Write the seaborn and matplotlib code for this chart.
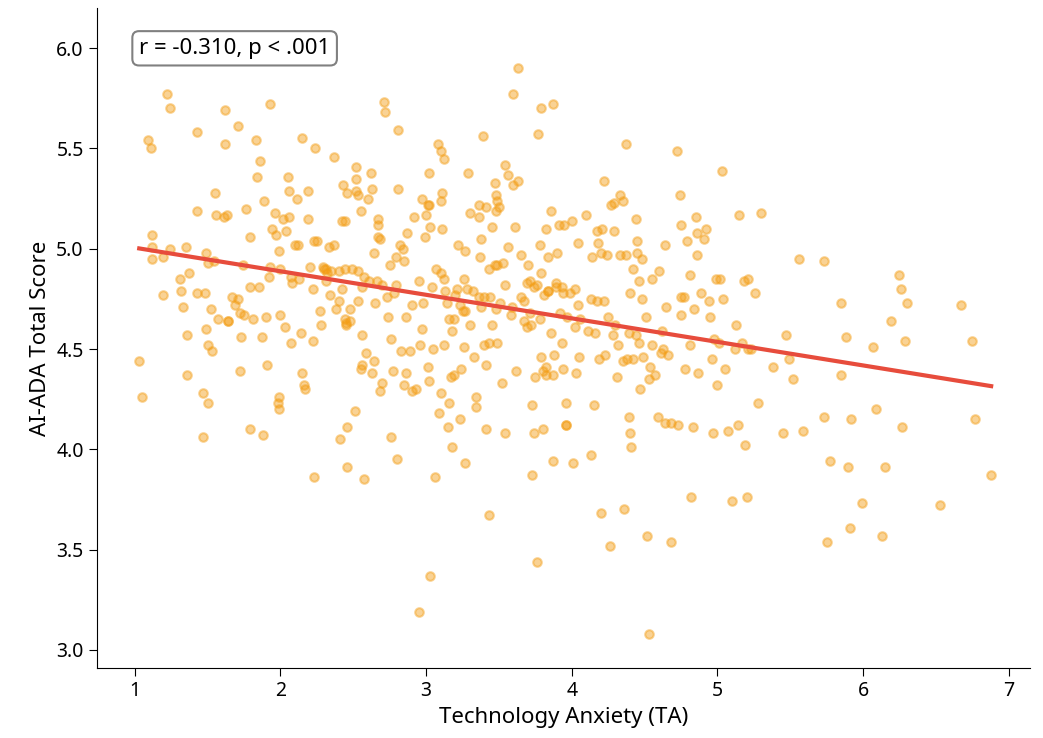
import numpy as np
import pandas as pd
import matplotlib
matplotlib.use("Agg")
import matplotlib.pyplot as plt
import seaborn as sns

# Technology Anxiety (TA) scores
ta = [
    1.03, 1.05, 1.09, 1.11, 1.12, 1.12, 1.12, 1.19, 1.19, 1.22, 1.24, 1.24, 1.30, 1.31, 1.32,
    1.33, 1.35, 1.36, 1.36, 1.37, 1.43, 1.43, 1.43, 1.47, 1.47, 1.48, 1.49, 1.49, 1.50, 1.50,
    1.50, 1.52, 1.53, 1.54, 1.55, 1.56, 1.57, 1.61, 1.62, 1.62, 1.63, 1.64, 1.64, 1.67, 1.69,
    1.71, 1.71, 1.72, 1.72, 1.73, 1.74, 1.75, 1.76, 1.79, 1.79, 1.79, 1.81, 1.83, 1.84, 1.85,
    1.86, 1.87, 1.88, 1.89, 1.90, 1.91, 1.92, 1.93, 1.93, 1.94, 1.95, 1.96, 1.97, 1.98, 1.99,
    1.99, 1.99, 2.00, 2.00,
    2.02, 2.03, 2.04, 2.05, 2.06, 2.06, 2.07, 2.07, 2.08, 2.10, 2.11, 2.12, 2.13, 2.14, 2.15,
    2.15, 2.16, 2.17, 2.19, 2.19, 2.20, 2.22, 2.22, 2.23, 2.23, 2.24, 2.25, 2.27, 2.28, 2.29,
    2.30, 2.31, 2.31, 2.32, 2.33, 2.34, 2.35, 2.37, 2.37, 2.38, 2.40, 2.40, 2.41, 2.42, 2.42,
    2.43, 2.44, 2.44, 2.44, 2.45, 2.45, 2.46, 2.46, 2.46, 2.48, 2.48, 2.49,
    2.51, 2.52, 2.52, 2.52, 2.53, 2.53, 2.53, 2.55, 2.55, 2.56, 2.56, 2.56, 2.57, 2.57, 2.59,
    2.60, 2.61, 2.62, 2.63, 2.63, 2.64, 2.64, 2.65, 2.66, 2.67, 2.67, 2.67, 2.68, 2.68, 2.70,
    2.70, 2.71, 2.72, 2.73, 2.74, 2.75, 2.76, 2.76, 2.77, 2.78, 2.79, 2.79, 2.80, 2.81, 2.81,
    2.82, 2.83, 2.84, 2.85, 2.85, 2.86, 2.86, 2.87, 2.89, 2.90, 2.90, 2.92, 2.93, 2.95, 2.95,
    2.96, 2.97, 2.97, 2.98, 2.99,
    3.00, 3.01, 3.01, 3.02, 3.02, 3.02, 3.03, 3.03, 3.04, 3.05, 3.06, 3.07, 3.08, 3.11, 3.10,
    3.09, 3.10, 3.10, 3.10, 3.11, 3.12, 3.12, 3.12, 3.13, 3.14, 3.15, 3.16, 3.16, 3.17, 3.18,
    3.18, 3.19, 3.19, 3.20, 3.21, 3.22, 3.23, 3.23, 3.24, 3.25, 3.26, 3.26, 3.27, 3.27, 3.27,
    3.28, 3.29, 3.30, 3.30, 3.32, 3.33, 3.34, 3.34, 3.36, 3.36, 3.36, 3.37, 3.38, 3.38, 3.39,
    3.40, 3.40, 3.41, 3.41, 3.41, 3.43, 3.43, 3.43, 3.44, 3.45, 3.45, 3.47, 3.47, 3.48, 3.48,
    3.48, 3.49, 3.49, 3.49,
    3.50, 3.51, 3.52, 3.53, 3.54, 3.54, 3.54, 3.56, 3.56, 3.58, 3.59, 3.60, 3.60, 3.61, 3.62,
    3.63, 3.63, 3.65, 3.65, 3.67, 3.67, 3.69, 3.69, 3.70, 3.71, 3.71, 3.72, 3.73, 3.73, 3.74,
    3.74, 3.75, 3.76, 3.76, 3.77, 3.78, 3.78, 3.79, 3.79, 3.79, 3.80, 3.80, 3.81, 3.82, 3.82,
    3.82, 3.84, 3.84, 3.84, 3.86, 3.86, 3.87, 3.87, 3.87, 3.88, 3.89, 3.89, 3.90, 3.91, 3.92,
    3.93, 3.93, 3.94, 3.94, 3.95, 3.96, 3.96, 3.96, 3.97, 3.99,
    4.00, 4.01, 4.02, 4.02, 4.03, 4.04, 4.04, 4.05, 4.06, 4.10, 4.11, 4.13, 4.13, 4.14, 4.15,
    4.16, 4.17, 4.17, 4.18, 4.19, 4.20, 4.20, 4.21, 4.22, 4.22, 4.23, 4.24, 4.25, 4.26, 4.27,
    4.28, 4.29, 4.29, 4.30, 4.31, 4.32, 4.33, 4.33, 4.35, 4.35, 4.36, 4.37, 4.37, 4.38, 4.39,
    4.39, 4.40, 4.40, 4.41, 4.42, 4.42, 4.44, 4.44, 4.45, 4.45, 4.46, 4.46, 4.47, 4.48, 4.48,
    4.49,
    4.51, 4.52, 4.53, 4.53, 4.54, 4.55, 4.55, 4.57, 4.59, 4.60, 4.61, 4.62, 4.63, 4.64, 4.64,
    4.65, 4.66, 4.68, 4.68, 4.72, 4.73, 4.74, 4.75, 4.75, 4.75, 4.77, 4.78, 4.79, 4.81, 4.81,
    4.82, 4.83, 4.84, 4.85, 4.86, 4.86, 4.87, 4.89, 4.91, 4.92, 4.94, 4.95, 4.96, 4.97, 4.98,
    4.99, 5.00,
    5.01, 5.02, 5.03, 5.04, 5.05, 5.07, 5.10, 5.12, 5.13, 5.14, 5.15, 5.17, 5.18, 5.19, 5.20,
    5.21, 5.21, 5.23, 5.26, 5.28, 5.30, 5.38, 5.45, 5.47, 5.49, 5.52,
    5.56, 5.59, 5.73, 5.73, 5.75, 5.77, 5.85, 5.85, 5.88, 5.90, 5.91, 5.92, 5.99,
    6.07, 6.09, 6.13, 6.15, 6.19, 6.25, 6.26, 6.27, 6.29, 6.30, 6.53, 6.67, 6.75, 6.77, 6.88,
]

# AI-ADA total scores, same order as ta
ada = [
    4.44, 4.26, 5.54, 5.50, 5.07, 5.01, 4.95, 4.96, 4.77, 5.77, 5.70, 5.00, 5.94, 4.85, 4.79,
    4.71, 5.01, 4.57, 4.37, 4.88, 5.58, 5.19, 4.78, 4.28, 4.06, 4.78, 4.98, 4.60, 4.52, 4.23,
    4.93, 4.70, 4.49, 4.94, 5.28, 5.17, 4.65, 5.16, 5.69, 5.52, 5.17, 4.64, 4.64, 4.76, 4.72,
    5.61, 4.75, 4.68, 4.39, 4.56, 4.92, 4.67, 5.20, 4.10, 5.06, 4.81, 4.65, 5.54, 5.36, 4.81,
    5.44, 4.56, 4.07, 5.24, 4.66, 4.42, 4.86, 5.72, 4.91, 5.10, 6.06, 5.18, 5.07, 4.23, 4.26,
    4.20, 4.99, 4.90, 4.67,
    5.15, 4.61, 5.09, 5.36, 5.29, 5.16, 4.53, 4.86, 4.83, 5.02, 5.25, 5.02, 4.85, 4.58, 4.38,
    5.55, 4.32, 4.30, 5.15, 5.29, 4.91, 4.80, 4.54, 3.86, 5.04, 5.50, 5.04, 4.69, 4.62, 4.91,
    4.90, 4.84, 4.90, 4.88, 5.01, 4.77, 4.89, 5.02, 5.46, 4.70, 4.74, 4.89, 4.05, 4.80, 5.14,
    5.32, 5.14, 4.90, 4.65, 4.62, 4.63, 4.11, 5.28, 3.91, 4.64, 4.70, 4.90,
    4.19, 5.41, 5.29, 5.35, 4.74, 5.27, 4.89, 4.40, 5.19, 4.57, 4.42, 4.81, 3.85, 4.86, 4.48,
    5.25, 4.84, 5.38, 4.38, 5.30, 4.44, 4.98, 4.73, 4.84, 5.15, 5.06, 5.12, 5.05, 4.29, 4.33,
    4.82, 5.73, 5.68, 4.76, 4.66, 4.92, 4.06, 4.55, 4.39, 4.78, 4.96, 4.82, 3.95, 5.30, 5.59,
    5.02, 4.49, 5.00, 4.94, 4.32, 4.66, 4.38, 5.08, 4.49, 4.72, 4.29, 5.16, 4.30, 4.84, 3.19,
    4.52, 5.25, 4.60, 4.73, 5.06,
    5.17, 4.41, 5.22, 5.22, 5.38, 4.34, 5.11, 3.37, 4.81, 4.50, 3.86, 4.90, 5.52, 5.28, 5.24,
    4.18, 5.49, 4.28, 4.88, 5.10, 4.52, 5.45, 4.85, 4.79, 4.73, 4.11, 4.23, 4.65, 4.36, 4.01,
    4.59, 4.65, 4.37, 4.77, 4.80, 5.02, 4.72, 4.15, 4.40, 4.69, 4.85, 4.51, 4.99, 3.93, 4.69,
    4.80, 5.38, 5.18, 4.62, 4.79, 4.46, 4.21, 4.26, 5.22, 4.76, 5.16, 4.96, 5.05, 4.71, 5.56,
    4.76, 4.52, 4.42, 5.21, 4.10, 4.90, 3.67, 4.53, 4.76, 4.62, 5.11, 4.92, 5.33, 5.27, 4.70,
    5.19, 4.92, 4.53, 5.24,
    5.21, 4.73, 4.33, 4.93, 4.08, 4.82, 5.42, 5.01, 5.37, 4.67, 4.71, 5.32, 5.77, 5.11, 4.39,
    5.34, 5.90, 4.97, 4.76, 4.64, 4.74, 4.83, 4.61, 4.92, 4.84, 4.68, 4.62, 4.22, 3.87, 4.08,
    4.81, 4.36, 3.44, 4.82, 5.57, 5.02, 4.65, 5.70, 4.46, 4.88, 4.39, 4.10, 4.77, 4.41, 4.37,
    5.10, 4.96, 4.79, 4.79, 5.19, 4.58, 5.72, 4.37, 3.94, 4.47, 4.81, 4.83, 4.98, 5.12, 4.68,
    4.81, 4.53, 4.40, 4.78, 5.12, 4.12, 4.12, 4.23, 4.66, 4.78,
    5.14, 3.93, 4.61, 4.80, 4.38, 4.72, 5.03, 4.46, 4.65, 5.17, 4.59, 3.97, 4.75, 4.96, 4.22,
    4.58, 4.74, 5.09, 5.03, 4.45, 3.68, 4.98, 5.10, 4.74, 5.34, 4.47, 4.97, 4.66, 3.52, 5.22,
    4.57, 5.23, 5.09, 4.62, 4.36, 4.52, 4.97, 5.27, 4.44, 5.24, 3.70, 5.52, 4.97, 4.45, 4.16,
    4.58, 4.08, 4.78, 4.01, 4.45, 4.90, 5.15, 4.57, 5.04, 4.98, 4.53, 4.84, 4.30, 4.75, 4.95,
    4.46,
    4.66, 3.57, 3.08, 4.35, 4.41, 4.52, 4.85, 4.37, 4.16, 4.89, 4.48, 4.59, 4.50, 5.02, 4.13,
    4.71, 4.47, 4.13, 3.54, 5.49, 4.12, 5.27, 5.12, 4.76, 4.67, 4.76, 4.40, 5.04, 4.87, 4.52,
    3.76, 4.11, 4.70, 5.16, 4.97, 5.08, 4.38, 4.78, 5.05, 5.10, 4.74, 4.66, 4.45, 4.08, 4.55,
    4.85, 4.32,
    4.53, 4.85, 5.39, 4.75, 4.40, 4.09, 3.74, 4.50, 4.62, 4.12, 5.17, 4.53, 4.84, 4.02, 3.76,
    4.50, 4.85, 4.50, 4.78, 4.23, 5.18, 4.41, 4.08, 4.57, 4.45, 4.35,
    4.95, 4.09, 4.94, 4.16, 3.54, 3.94, 4.37, 4.73, 4.56, 3.91, 3.61, 4.15, 3.73,
    4.51, 4.20, 3.57, 3.91, 4.64, 4.87, 4.80, 4.11, 4.54, 4.73, 3.72, 4.72, 4.54, 4.15, 3.87,
]

df = pd.DataFrame({"TA": ta, "ADA": ada})

plt.rcParams['font.family'] = ['Noto Sans', 'DejaVu Sans']

fig = plt.figure(figsize=(10.43, 7.38), dpi=100)
ax = fig.add_axes([0.093, 0.095, 0.895, 0.894])

sns.regplot(data=df, x="TA", y="ADA", ax=ax, ci=None,
            scatter_kws={"color": "#f39c12", "alpha": 0.45, "s": 38,
                         "edgecolor": "#f39c12", "linewidths": 1.5},
            line_kws={"color": "#e74c3c", "linewidth": 3})

ax.set_xlim(0.74, 7.15)
ax.set_ylim(2.91, 6.2)
ax.set_xticks([1, 2, 3, 4, 5, 6, 7])
ax.set_yticks([3.0, 3.5, 4.0, 4.5, 5.0, 5.5, 6.0])
ax.tick_params(labelsize=14, length=6)
ax.set_xlabel("Technology Anxiety (TA)", fontsize=16)
ax.set_ylabel("AI-ADA Total Score", fontsize=16)
sns.despine(ax=ax)

ax.text(0.045, 0.955, "r = -0.310, p < .001", transform=ax.transAxes,
        fontsize=16, va="top", ha="left",
        bbox=dict(boxstyle="round,pad=0.3", facecolor="white",
                  edgecolor="gray", linewidth=1.5))

fig.savefig("out.png", dpi=100)
